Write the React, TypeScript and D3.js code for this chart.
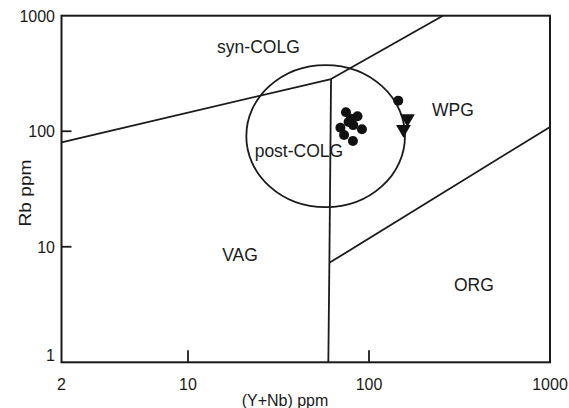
import { useEffect, useRef } from 'react';
import * as d3 from 'd3';

// Rb vs (Y+Nb) granite discrimination diagram
const xTicks = [2, 10, 100, 1000];
const yTicks = [1, 10, 100, 1000];

// field boundaries, [Y+Nb, Rb]
const vagSynColg: [number, number][] = [[2, 80], [61.7, 283]];
const synColgWpg: [number, number][] = [[61.7, 283], [256, 1000]];
const vagWpg: [number, number][] = [[61.7, 283], [60.4, 7.26]];
const vagOrg: [number, number][] = [[60.4, 7.26], [59.6, 1]];
const wpgOrg: [number, number][] = [[60.4, 7.26], [1000, 109]];

// post-COLG field extent
const postColgX = [21, 158];
const postColgY = [22, 374];

// samples
const dotX = [74.6, 86.4, 77.1, 69.5, 81.8, 91.4, 72.8, 81.5, 79.4, 145];
const dotY = [146, 135, 120, 107, 113, 104, 92.7, 82.3, 128, 184];
const triX = [163, 155];
const triY = [129, 104];

const fieldLabels = [
  { text: 'syn-COLG', x: 24.5, y: 480 },
  { text: 'post-COLG', x: 41, y: 60 },
  { text: 'WPG', x: 291, y: 135 },
  { text: 'VAG', x: 19.4, y: 7.5 },
  { text: 'ORG', x: 380, y: 4.13 },
];

const W = 569;
const H = 408;

export default function App() {
  const ref = useRef<SVGSVGElement>(null);

  useEffect(() => {
    if (!ref.current) return;
    const svg = d3.select(ref.current);
    svg.selectAll('*').remove();

    const x = d3.scaleLog().domain([2, 1000]).range([61.5, 550]);
    const y = d3.scaleLog().domain([1, 1000]).range([362.3, 15.7]);
    const ink = '#1a1a1a';
    const font = 'Liberation Sans, Arial, Helvetica, sans-serif';

    const line = d3.line<[number, number]>().x(d => x(d[0])).y(d => y(d[1]));

    // post-COLG ellipse
    const cx = (x(postColgX[0]) + x(postColgX[1])) / 2;
    const cy = (y(postColgY[0]) + y(postColgY[1])) / 2;
    svg.append('ellipse')
      .attr('cx', cx)
      .attr('cy', cy)
      .attr('rx', (x(postColgX[1]) - x(postColgX[0])) / 2)
      .attr('ry', (y(postColgY[0]) - y(postColgY[1])) / 2)
      .attr('fill', 'none')
      .attr('stroke', ink)
      .attr('stroke-width', 1.8);

    [vagSynColg, synColgWpg, vagWpg, vagOrg, wpgOrg].forEach(b => {
      svg.append('path')
        .attr('d', line(b))
        .attr('fill', 'none')
        .attr('stroke', ink)
        .attr('stroke-width', 1.8);
    });

    // frame
    svg.append('rect')
      .attr('x', x(2))
      .attr('y', y(1000))
      .attr('width', x(1000) - x(2))
      .attr('height', y(1) - y(1000))
      .attr('fill', 'none')
      .attr('stroke', ink)
      .attr('stroke-width', 2);

    // inner ticks
    [10, 100].forEach(t => {
      svg.append('line')
        .attr('x1', x(t)).attr('x2', x(t))
        .attr('y1', y(1)).attr('y2', y(1) - 12)
        .attr('stroke', ink).attr('stroke-width', 1.8);
      svg.append('line')
        .attr('x1', x(2)).attr('x2', x(2) + 10)
        .attr('y1', y(t)).attr('y2', y(t))
        .attr('stroke', ink).attr('stroke-width', 1.8);
    });

    // tick labels
    svg.append('g').selectAll('text')
      .data(xTicks)
      .enter()
      .append('text')
      .attr('x', d => x(d))
      .attr('y', 390)
      .attr('text-anchor', 'middle')
      .attr('font-family', font)
      .attr('font-size', 16)
      .attr('fill', ink)
      .text(d => d.toString());

    svg.append('g').selectAll('text')
      .data(yTicks)
      .enter()
      .append('text')
      .attr('x', 55)
      .attr('y', d => (d === 1 ? y(d) - 1 : y(d) + 6))
      .attr('text-anchor', 'end')
      .attr('font-family', font)
      .attr('font-size', 16)
      .attr('fill', ink)
      .text(d => d.toString());

    // axis titles
    svg.append('text')
      .attr('x', 285)
      .attr('y', 406)
      .attr('text-anchor', 'middle')
      .attr('font-family', font)
      .attr('font-size', 16)
      .attr('fill', ink)
      .text('(Y+Nb) ppm');

    svg.append('text')
      .attr('transform', 'translate(31,193) rotate(-90)')
      .attr('text-anchor', 'middle')
      .attr('font-family', font)
      .attr('font-size', 16)
      .attr('textLength', 67)
      .attr('lengthAdjust', 'spacingAndGlyphs')
      .attr('fill', ink)
      .text('Rb ppm');

    // field labels
    svg.append('g').selectAll('text')
      .data(fieldLabels)
      .enter()
      .append('text')
      .attr('x', d => x(d.x))
      .attr('y', d => y(d.y))
      .attr('text-anchor', 'middle')
      .attr('font-family', font)
      .attr('font-size', 17.5)
      .attr('fill', ink)
      .text(d => d.text);

    // samples
    svg.append('g').selectAll('circle')
      .data(dotX.map((v, i) => [v, dotY[i]]))
      .enter()
      .append('circle')
      .attr('cx', d => x(d[0]))
      .attr('cy', d => y(d[1]))
      .attr('r', 5)
      .attr('fill', '#111');

    const tri = d3.symbol().type(d3.symbolTriangle).size(95);
    svg.append('g').selectAll('path')
      .data(triX.map((v, i) => [v, triY[i]]))
      .enter()
      .append('path')
      .attr('d', tri)
      .attr('transform', d => `translate(${x(d[0])},${y(d[1])}) rotate(180)`)
      .attr('fill', '#111');
  }, []);

  return (
    <svg
      ref={ref}
      width={W}
      height={H}
      style={{ position: 'absolute', left: 0, top: 0, background: '#fff' }}
    />
  );
}
